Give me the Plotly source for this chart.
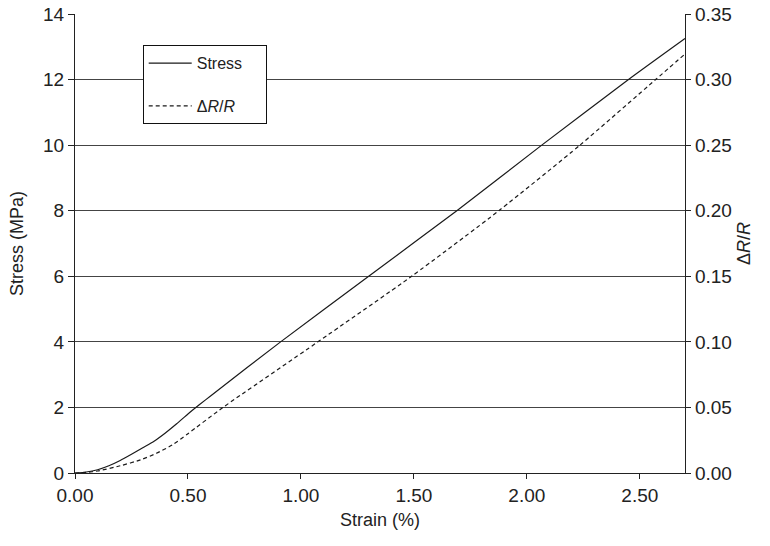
import plotly.graph_objects as go

# Data
stress_strain = [0.0, 0.05, 0.10, 0.15, 0.20, 0.25, 0.30, 0.35, 0.40, 0.45, 0.50, 0.55, 0.60,
                 0.91, 1.30, 1.69, 2.066, 2.45, 2.70]
stress_mpa = [0.0, 0.03, 0.10, 0.22, 0.38, 0.57, 0.77, 0.97, 1.22, 1.50, 1.80, 2.08, 2.35,
              4.00, 6.00, 8.00, 10.00, 12.00, 13.25]

dr_strain = [0.0, 0.05, 0.10, 0.20, 0.29, 0.36, 0.43, 0.50, 0.655, 1.075, 1.49, 1.876,
             2.235, 2.57, 2.70]
dr_values = [0.0, 0.0005, 0.0015, 0.0055, 0.0100, 0.0150, 0.0213, 0.0300, 0.0500, 0.1000,
             0.1500, 0.2000, 0.2500, 0.3000, 0.3195]

x_ticks = [0, 0.5, 1.0, 1.5, 2.0, 2.5]
y_ticks = [0, 2, 4, 6, 8, 10, 12, 14]
y2_ticks = [0, 0.05, 0.10, 0.15, 0.20, 0.25, 0.30, 0.35]

FONT = "Liberation Sans, Arial, sans-serif"
INK = "#1a1a1a"
PAD = "\u00a0" * 4

fig = go.Figure()
fig.add_trace(go.Scatter(x=stress_strain, y=stress_mpa, mode="lines", name="Stress" + PAD,
                         line=dict(color=INK, width=1.2, shape="spline", smoothing=0.6),
                         legendgroup="a"))
fig.add_trace(go.Scatter(x=dr_strain, y=dr_values, mode="lines",
                         name="\u0394<i>R</i>/<i>R</i>" + PAD,
                         yaxis="y2",
                         line=dict(color=INK, width=1.2, dash="4px,3px", shape="spline", smoothing=0.6),
                         legendgroup="b"))

fig.update_layout(
    width=770, height=546,
    margin=dict(l=75, r=85, t=14, b=73, autoexpand=False),
    paper_bgcolor="white", plot_bgcolor="white",
    font=dict(family=FONT, size=19, color="#222"),
    showlegend=True,
    legend=dict(x=0.111, y=0.932, xanchor="left", yanchor="top",
                bgcolor="white", bordercolor="#111", borderwidth=1,
                font=dict(size=16, color="#222"),
                traceorder="grouped", tracegroupgap=19, itemwidth=43),
    xaxis=dict(range=[0, 2.7], tickvals=x_ticks, ticktext=[f"{v:.2f}" for v in x_ticks],
               showgrid=False, zeroline=False, showline=True, linecolor="#222", linewidth=1.2,
               ticks="outside", ticklen=5, tickcolor="#222", automargin=False,
               title=dict(text="Strain (%)", font=dict(size=18), standoff=8)),
    yaxis=dict(range=[0, 14], tickvals=y_ticks, showgrid=True, gridcolor="#444", gridwidth=1,
               zeroline=False, showline=True, linecolor="#222", linewidth=1.2,
               ticks="outside", ticklen=6, tickcolor="#222", automargin=False,
               title=dict(text="Stress (MPa)", font=dict(size=18), standoff=14)),
    yaxis2=dict(range=[0, 0.35], tickvals=y2_ticks, ticktext=[f"{v:.2f}" for v in y2_ticks],
                overlaying="y", side="right", showgrid=False, zeroline=False,
                showline=True, linecolor="#222", linewidth=1.2,
                ticks="outside", ticklen=5, tickcolor="#222", automargin=False,
                title=dict(text="\u0394<i>R</i>/<i>R</i>", font=dict(size=18), standoff=6)),
)

fig.write_html("out.html")
